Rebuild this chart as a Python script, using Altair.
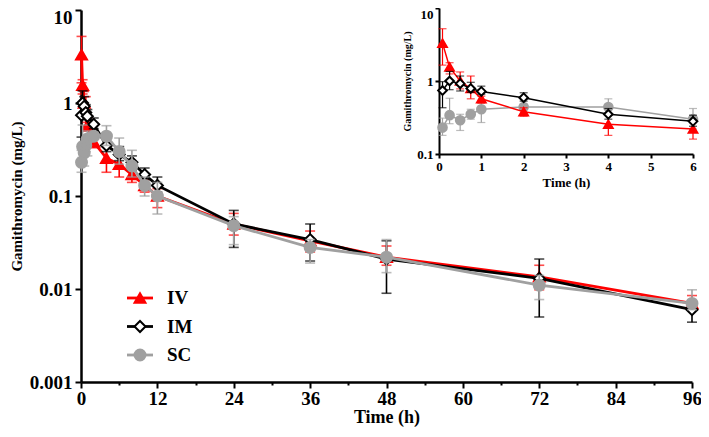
import altair as alt
import pandas as pd

series_names = ["IV", "IM", "SC"]
series_colors = ["#FF0000", "#000000", "#A0A0A0"]
series_fills = ["#FF0000", "#FFFFFF", "#A0A0A0"]
series_shapes = ["triangle-up", "diamond", "circle"]

times = [0.083, 0.25, 0.5, 0.75, 1, 2, 4, 6, 8, 10, 12, 24, 36, 48, 72, 96]

iv_mean = [3.3, 1.55, 1.0, 0.79, 0.57, 0.38, 0.255, 0.22, 0.17, 0.13, 0.1, 0.05, 0.033, 0.022, 0.0135, 0.007]
iv_hi = [5.2, 1.78, 1.33, 1.17, 0.62, 0.43, 0.34, 0.27, 0.2, 0.15, 0.12, 0.065, 0.042, 0.029, 0.018, 0.0085]
iv_lo = [1.65, 1.25, 0.78, 0.57, 0.5, 0.33, 0.18, 0.16, 0.14, 0.11, 0.075, 0.038, 0.025, 0.018, 0.0098, 0.006]

im_mean = [0.74, 1.0, 0.92, 0.79, 0.72, 0.59, 0.35, 0.28, 0.23, 0.17, 0.13, 0.05, 0.034, 0.021, 0.013, 0.006]
im_hi = [0.98, 1.35, 1.17, 0.96, 0.85, 0.69, 0.42, 0.34, 0.27, 0.2, 0.16, 0.07, 0.05, 0.033, 0.021, 0.0075]
im_lo = [0.43, 0.76, 0.73, 0.7, 0.66, 0.53, 0.3, 0.24, 0.19, 0.15, 0.11, 0.028, 0.02, 0.009, 0.005, 0.0044]

sc_mean = [0.23, 0.34, 0.29, 0.35, 0.41, 0.44, 0.44, 0.3, 0.21, 0.13, 0.1, 0.048, 0.028, 0.022, 0.011, 0.007]
sc_hi = [0.31, 0.58, 0.35, 0.41, 0.5, 0.48, 0.57, 0.42, 0.31, 0.16, 0.14, 0.06, 0.034, 0.034, 0.014, 0.0098]
sc_lo = [0.18, 0.26, 0.21, 0.3, 0.27, 0.41, 0.35, 0.22, 0.16, 0.1, 0.064, 0.03, 0.019, 0.015, 0.0077, 0.006]

main_x_ticks = [0, 12, 24, 36, 48, 60, 72, 84, 96]
minor_x_ticks = [6, 18, 30, 42, 54, 66, 78, 90]
main_y_ticks = [0.001, 0.01, 0.1, 1, 10]
inset_x_ticks = [0, 1, 2, 3, 4, 5, 6]
inset_y_ticks = [0.1, 1, 10]

rows = []
for name, m, hi, lo in [("IV", iv_mean, iv_hi, iv_lo), ("IM", im_mean, im_hi, im_lo), ("SC", sc_mean, sc_hi, sc_lo)]:
    for t, a, b, c in zip(times, m, hi, lo):
        rows.append({"series": name, "t": t, "mean": a, "hi": b, "lo": c})
df = pd.DataFrame(rows)

FONT = "Liberation Serif"
W, H = 611, 372

stroke_scale = alt.Scale(domain=series_names, range=series_colors)
fill_scale = alt.Scale(domain=series_names, range=series_fills)
shape_scale = alt.Scale(domain=series_names, range=series_shapes)


def build(data, x_scale, y_scale, x_axis, y_axis, lw, sw, cap, psize, draw_order):
    layers = []
    for name in draw_order:
        d = data[data["series"] == name]
        base = alt.Chart(d)
        X = alt.X("t:Q", scale=x_scale, axis=x_axis)
        col = alt.Color("series:N", scale=stroke_scale, legend=None)
        layers.append(base.mark_rule(strokeWidth=sw).encode(
            x=X, y=alt.Y("lo:Q", scale=y_scale, axis=y_axis), y2="hi:Q", color=col))
        for f in ["lo", "hi"]:
            layers.append(base.mark_tick(orient="horizontal", size=cap, thickness=sw).encode(
                x=X, y=alt.Y(f + ":Q", scale=y_scale, axis=y_axis), color=col))
        layers.append(base.mark_line(strokeWidth=lw).encode(
            x=X, y=alt.Y("mean:Q", scale=y_scale, axis=y_axis), color=col, order="t:Q"))
        layers.append(base.mark_point(opacity=1, strokeWidth=2, filled=False).encode(
            x=X, y=alt.Y("mean:Q", scale=y_scale, axis=y_axis),
            stroke=alt.Stroke("series:N", scale=stroke_scale, legend=None),
            fill=alt.Fill("series:N", scale=fill_scale, legend=None),
            shape=alt.Shape("series:N", scale=shape_scale, legend=None),
            size=alt.value(psize)))
    return alt.layer(*layers)


main_x_axis = alt.Axis(orient="bottom", values=main_x_ticks, title="Time (h)", labelFontSize=19,
                       titleFontSize=18, tickSize=6, labelPadding=1, titlePadding=0, grid=False,
                       labelFlush=False)
main_y_axis = alt.Axis(orient="left", values=main_y_ticks, format="~g", title="Gamithromycin (mg/L)",
                       labelFontSize=19, titleFontSize=15, tickSize=6, labelPadding=3, titlePadding=5,
                       grid=False, labelFlush=False,
                       labelOffset=alt.condition("datum.value == 10", alt.value(7), alt.value(0)))
main = build(df,
             alt.Scale(domain=[0, 96], nice=False),
             alt.Scale(type="log", domain=[0.001, 10], nice=False),
             main_x_axis, main_y_axis, 2.8, 1.6, 10, 120, ["IV", "IM", "SC"])

ins_df = df[df["t"] <= 6]
inset_x_axis = alt.Axis(orient="bottom", values=inset_x_ticks, title="Time (h)", labelFontSize=13,
                        titleFontSize=13, tickSize=4, labelPadding=2, titlePadding=3, grid=False,
                        offset=-(H - 144), domainWidth=2, labelFlush=False)
inset_y_axis = alt.Axis(orient="left", values=inset_y_ticks, format="~g", title="Gamithromycin (mg/L)",
                        labelFontSize=13, titleFontSize=10, tickSize=4, labelPadding=2, titlePadding=4,
                        grid=False, offset=-358, domainWidth=2, labelFlush=False,
                        labelOffset=alt.condition("datum.value == 10", alt.value(6), alt.value(0)))
inset = build(ins_df,
              alt.Scale(domain=[0, 6], nice=False, range=[358, 612]),
              alt.Scale(type="log", domain=[0.1, 10], nice=False, range=[144, -2]),
              inset_x_axis, inset_y_axis, 1.5, 1.2, 8, 75, ["SC", "IV", "IM"])

minor_df = pd.DataFrame({"v": [0]})
minor = alt.Chart(minor_df).mark_rule(opacity=0).encode(
    x=alt.X("v:Q", scale=alt.Scale(domain=[0, 96], nice=False),
            axis=alt.Axis(orient="bottom", values=minor_x_ticks, labels=False, domain=False,
                          title=None, tickSize=3, grid=False)))

legend_df = pd.DataFrame({"series": series_names, "idx": [0, 1, 2]})
ly = alt.Y("idx:Q", scale=alt.Scale(domain=[0, 2], range=[288, 345]), axis=None)
lcol = alt.Color("series:N", scale=stroke_scale, legend=None)
lb = alt.Chart(legend_df)
legend = alt.layer(
    lb.mark_rule(strokeWidth=2.8).encode(x=alt.value(46), x2=alt.value(72), y=ly, color=lcol),
    lb.mark_point(opacity=1, strokeWidth=2, filled=False).encode(
        x=alt.value(59), y=ly,
        stroke=alt.Stroke("series:N", scale=stroke_scale, legend=None),
        fill=alt.Fill("series:N", scale=fill_scale, legend=None),
        shape=alt.Shape("series:N", scale=shape_scale, legend=None),
        size=alt.value(120)),
    lb.mark_text(align="left", baseline="middle", font=FONT, fontWeight="bold", fontSize=19,
                 color="black").encode(x=alt.value(86), y=ly, text="series:N"),
)

chart = alt.layer(main, inset, minor, legend).resolve_scale(
    x="independent", y="independent"
).properties(
    width=W, height=H,
    autosize=alt.AutoSizeParams(type="none"),
    padding={"left": 73, "top": 2, "right": 9, "bottom": 47},
).configure_axis(
    labelFont=FONT, titleFont=FONT, labelFontWeight="bold", titleFontWeight="bold",
    labelColor="black", titleColor="black", domainColor="black", tickColor="black",
    domainWidth=2.5, tickWidth=2,
).configure_view(stroke=None)

chart.save("out.html", embed_options={"renderer": "svg", "actions": False})
